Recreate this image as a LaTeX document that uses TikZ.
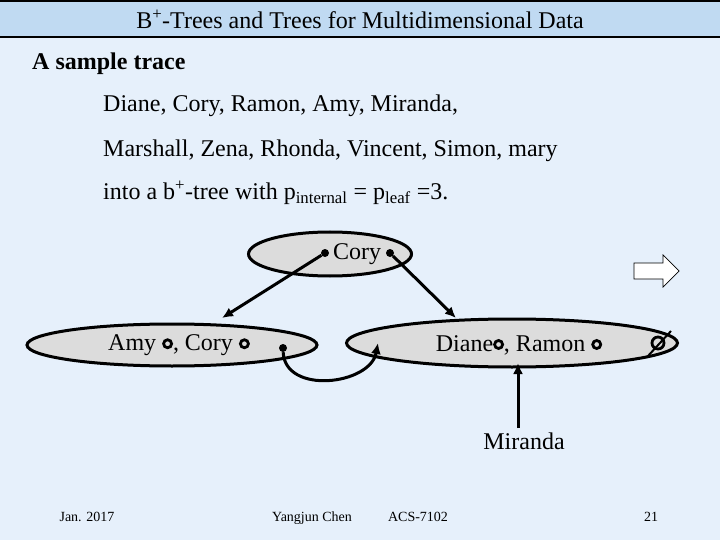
\documentclass[tikz,border=0pt]{standalone}
\usepackage{fontspec}
\setmainfont{Liberation Serif}
\usetikzlibrary{shapes.geometric,arrows.meta}
\definecolor{pagebg}{RGB}{230,240,251}
\definecolor{barbg}{RGB}{192,218,242}
\definecolor{keybg}{RGB}{220,220,220}
\newcommand{\ptrring}{\tikz[baseline=-0.6ex]\draw[line width=2.8pt] (0,0) circle (4pt);}
\tikzset{
  keynode/.style={ellipse, draw, line width=3pt, fill=keybg, inner sep=0pt},
  ptrdot/.style={circle, fill, inner sep=0pt, minimum size=8pt},
  link/.style={line width=3pt, -{Latex[length=11pt,width=10pt]}},
  big/.style={font=\fontsize{24}{28}\selectfont},
  txt/.style={big, anchor=base west, inner sep=0pt},
  foot/.style={font=\fontsize{14}{16}\selectfont, anchor=base, inner sep=0pt}
}
\begin{document}
\begin{tikzpicture}[x=1pt,y=-1pt]
\useasboundingbox (0,0) rectangle (720,540);
\fill[pagebg] (0,0) rectangle (720,540);
\fill[barbg] (0,0) rectangle (720,37);
\draw[line width=1.5pt] (0,1) -- (720,1);
\draw[line width=1.5pt] (0,37) -- (720,37);
\node[font=\fontsize{24}{28}\selectfont] (title) at (360,19) {B\textsuperscript{+}-Trees and Trees for Multidimensional Data};

% text of the slide
\node[txt, font=\bfseries\fontsize{24}{28}\selectfont] (head) at (32,70) {A sample trace};
\node[txt] (seq1) at (103,112) {Diane, Cory, Ramon, Amy, Miranda,};
\node[txt] (seq2) at (103,157) {Marshall, Zena, Rhonda, Vincent, Simon, mary};
\node[txt] (seq3) at (103,200) {into a b\textsuperscript{+}-tree with p\textsubscript{internal} = p\textsubscript{leaf} =3.};

% the tree
\node[keynode, minimum width=163pt, minimum height=44pt] (root) at (330,254) {};
\node[big] (rootkey) at (357,254) {Cory};
\node[ptrdot] (rl) at (325,253) {};
\node[ptrdot] (rr) at (390,253) {};

\node[keynode, minimum width=290pt, minimum height=42pt] (leafa) at (172,345) {};
\node[big] (leafakeys) at (179,345) {Amy \ptrring, Cory \ptrring};
\node[ptrdot] (an) at (283,348) {};

\node[keynode, minimum width=331pt, minimum height=48pt] (leafb) at (512,343) {};
\node[big] (leafbkeys) at (519,345) {Diane\ptrring, Ramon \ptrring};
\node[circle, draw, line width=2.8pt, minimum size=12pt, inner sep=0pt] (nil) at (658,343) {};
\draw[line width=2pt] (648,356) -- (671,331);

\coordinate (ta) at (222,318);
\coordinate (tb) at (456,318);
\coordinate (tc) at (378,343);
\draw[link] (rl) -- (ta);
\draw[link] (rr) -- (tb);
\draw[link] (an) .. controls (285,395) and (370,385) .. (tc);

\node[big] (newkey) at (524,441) {Miranda};
\coordinate (tm) at (518,363);
\draw[link] (518,428) -- (tm);

% next-slide arrow
\draw[line width=0.7pt, fill=white] (634,263) -- (663,263) -- (663,255) -- (679,271) -- (663,287) -- (663,279) -- (634,279) -- cycle;

% footer
\node[foot] (date) at (87,521) {Jan. 2017};
\node[foot] (author) at (312,521) {Yangjun Chen};
\node[foot] (course) at (418,521) {ACS-7102};
\node[foot] (page) at (651,521) {21};
\end{tikzpicture}
\end{document}
